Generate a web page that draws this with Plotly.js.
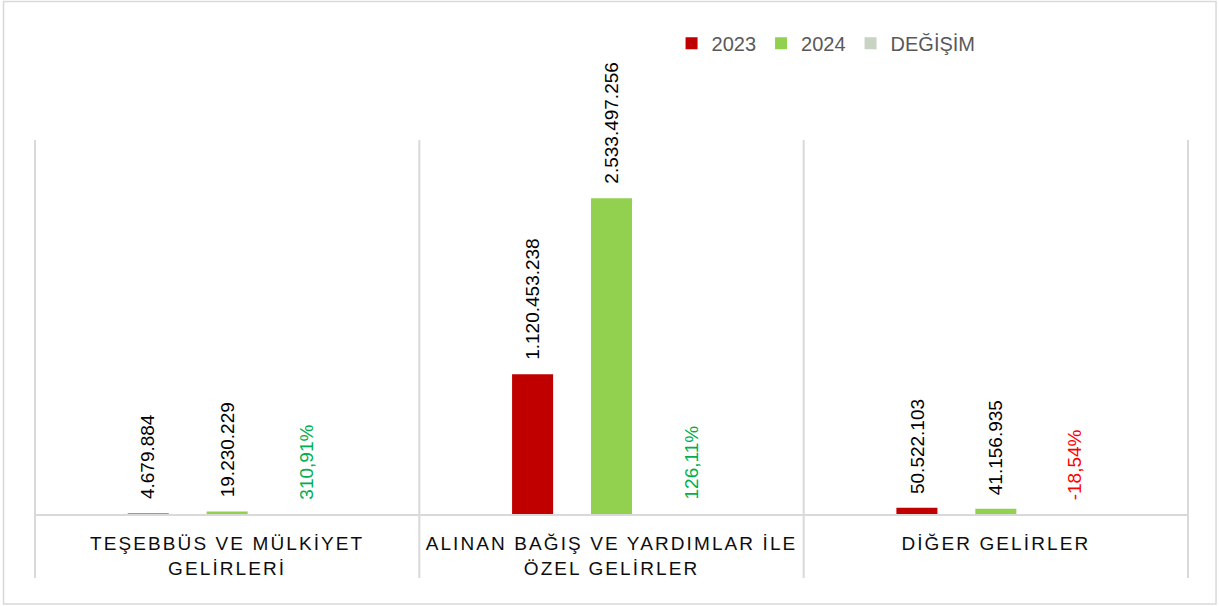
<!DOCTYPE html>
<html>
<head>
<meta charset="utf-8">
<script src="https://cdn.plot.ly/plotly-3.0.1.min.js"></script>
<style>
  html, body { margin: 0; padding: 0; background: #fff; }
  #chart { width: 1219px; height: 606px; }
  .xtick text { letter-spacing: 2.1px; }
</style>
</head>
<body>
<div id="chart"></div>
<script>
const categories = ["TEŞEBBÜS VE MÜLKİYET<br>GELİRLERİ", "ALINAN BAĞIŞ VE YARDIMLAR İLE<br>ÖZEL GELİRLER", "DİĞER GELİRLER"];
const seriesNames = ["2023", "2024", "DEĞİŞİM"];
const values2023 = [4679884, 1120453238, 50522103];
const values2024 = [19230229, 2533497256, 41156935];
const changePct = [310.91, 126.11, -18.54];

const colors = ["#C00000", "#92D050", "#C9D3C4"];

function fmtInt(v) {
  return Math.round(v).toString().replace(/\B(?=(\d{3})+(?!\d))/g, ".");
}
function fmtPct(v) {
  return v.toFixed(2).replace(".", ",") + "%";
}

const changeRatio = changePct.map(v => v / 100);

const traces = [
  { type: "bar", name: seriesNames[0], x: categories, y: values2023, marker: { color: colors[0] }, hoverinfo: "none" },
  { type: "bar", name: seriesNames[1], x: categories, y: values2024, marker: { color: colors[1] }, hoverinfo: "none" },
  { type: "bar", name: seriesNames[2], x: categories, y: changeRatio, marker: { color: colors[2] }, hoverinfo: "none" }
];

const slot = 79;
const annotations = [];
const labelFont = { family: "Liberation Sans, Arial, sans-serif", size: 19, color: "#000000" };
categories.forEach((c, i) => {
  annotations.push({ x: c, y: values2023[i], xref: "x", yref: "y", text: fmtInt(values2023[i]), textangle: -90,
    showarrow: false, xanchor: "center", yanchor: "bottom", xshift: -slot, yshift: 12, font: labelFont });
  annotations.push({ x: c, y: values2024[i], xref: "x", yref: "y", text: fmtInt(values2024[i]), textangle: -90,
    showarrow: false, xanchor: "center", yanchor: "bottom", xshift: 0, yshift: 12, font: labelFont });
  annotations.push({ x: c, y: Math.max(changeRatio[i], 0), xref: "x", yref: "y", text: fmtPct(changePct[i]), textangle: -90,
    showarrow: false, xanchor: "center", yanchor: "bottom", xshift: slot, yshift: 12,
    font: Object.assign({}, labelFont, { color: changePct[i] >= 0 ? "#00B050" : "#FF0000" }) });
});

const shapes = [];
[-0.5, 0.5, 1.5, 2.5].forEach(b => {
  shapes.push({ type: "line", xref: "x", yref: "paper", x0: b, x1: b, y0: -0.171, y1: 1.0,
    line: { color: "#D9D9D9", width: 2 }, layer: "below" });
});
shapes.push({ type: "rect", xref: "paper", yref: "paper", x0: -0.0264, x1: 1.0234, y0: -0.2406, y1: 1.370,
  line: { color: "#D9D9D9", width: 1.5 }, fillcolor: "rgba(0,0,0,0)", layer: "below" });

const layout = {
  width: 1219, height: 606,
  margin: { l: 34, r: 30, t: 140, b: 92 },
  paper_bgcolor: "#ffffff", plot_bgcolor: "#ffffff",
  barmode: "group", bargap: 0.384, bargroupgap: 0.48,
  font: { family: "Liberation Sans, Arial, sans-serif" },
  showlegend: true,
  legend: { orientation: "h", x: 0.552, xanchor: "left", y: 1.259, yanchor: "middle",
    font: { family: "Liberation Sans, Arial, sans-serif", size: 20, color: "#595959" },
    itemclick: false, itemdoubleclick: false, bgcolor: "rgba(0,0,0,0)" },
  xaxis: { type: "category", showline: true, linecolor: "#D9D9D9", linewidth: 2, ticks: "",
    showgrid: false, zeroline: false, fixedrange: true, ticklabelstandoff: 11,
    tickfont: { family: "Liberation Sans, Arial, sans-serif", size: 19, color: "#0D0D0D" } },
  yaxis: { range: [0, 3000000000], visible: false, showgrid: false, zeroline: false, fixedrange: true },
  annotations: annotations,
  shapes: shapes
};

Plotly.newPlot("chart", traces, layout, { displayModeBar: false, staticPlot: true });
</script>
</body>
</html>
